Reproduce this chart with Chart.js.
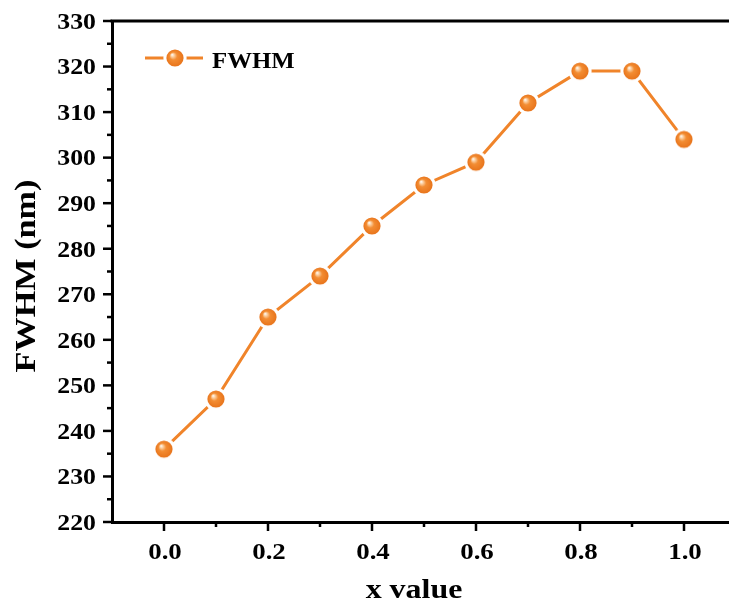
<!DOCTYPE html>
<html>
<head>
<meta charset="utf-8">
<script src="https://cdn.jsdelivr.net/npm/chart.js@4"></script>
<style>
html,body{margin:0;padding:0;background:#fff;overflow:hidden;}
canvas{display:block;}
</style>
</head>
<body>
<canvas id="c" width="740" height="606"></canvas>
<script>
// ---- data ----
const xValues = [0.0, 0.1, 0.2, 0.3, 0.4, 0.5, 0.6, 0.7, 0.8, 0.9, 1.0];
const fwhmValues = [236, 247, 265, 274, 285, 294, 299, 312, 319, 319, 304];
const xTickLabels = ['0.0', '0.2', '0.4', '0.6', '0.8', '1.0'];
const yTickLabels = ['220','230','240','250','260','270','280','290','300','310','320','330'];
const seriesName = 'FWHM';
const xTitle = 'x value';
const yTitle = 'FWHM (nm)';

const ORANGE = '#f0842a';
const FONT = '"Liberation Serif", "Times New Roman", serif';

// sphere marker image
function makeSphere(r, gap) {
  const size = Math.ceil((r + gap) * 2) + 2;
  const cv = document.createElement('canvas');
  cv.width = size; cv.height = size;
  const g = cv.getContext('2d');
  const c = size / 2;
  g.fillStyle = '#ffffff';
  g.beginPath(); g.arc(c, c, r + gap, 0, Math.PI * 2); g.fill();
  const grad = g.createRadialGradient(c - r * 0.35, c - r * 0.4, 0, c, c, r);
  grad.addColorStop(0, '#ffffff');
  grad.addColorStop(0.18, '#fcd3a8');
  grad.addColorStop(0.45, '#f38d33');
  grad.addColorStop(1, '#e8741b');
  g.fillStyle = grad;
  g.beginPath(); g.arc(c, c, r, 0, Math.PI * 2); g.fill();
  return cv;
}
const sphere = makeSphere(8.6, 3);

const points = xValues.map((x, i) => ({x: x, y: fwhmValues[i]}));

function sText(ctx, text, x, y, size, sx, align, rotate) {
  ctx.save();
  ctx.translate(x, y);
  if (rotate) ctx.rotate(-Math.PI / 2);
  ctx.scale(sx, 1);
  ctx.font = 'bold ' + size + 'px ' + FONT;
  ctx.textAlign = align;
  ctx.textBaseline = 'alphabetic';
  ctx.fillStyle = '#000';
  ctx.fillText(text, 0, 0);
  ctx.restore();
}

const decor = {
  id: 'decor',
  afterDraw(chart) {
    const ctx = chart.ctx;
    const a = chart.chartArea;
    const xs = chart.scales.x, ys = chart.scales.y;
    ctx.save();
    ctx.strokeStyle = '#000';
    ctx.lineWidth = 3;
    // top border
    ctx.beginPath(); ctx.moveTo(a.left - 1.5, a.top); ctx.lineTo(a.right + 10, a.top); ctx.stroke();
    ctx.lineWidth = 2.5;
    // y ticks
    for (let v = 220; v <= 330; v += 5) {
      const y = ys.getPixelForValue(v);
      const len = (v % 10 === 0) ? 9 : 5;
      ctx.beginPath(); ctx.moveTo(a.left, y); ctx.lineTo(a.left - len, y); ctx.stroke();
    }
    // x ticks
    for (let i = 0; i <= 10; i++) {
      const v = i / 10;
      const x = xs.getPixelForValue(v);
      const len = (i % 2 === 0) ? 9 : 5;
      ctx.beginPath(); ctx.moveTo(x, a.bottom); ctx.lineTo(x, a.bottom + len); ctx.stroke();
    }
    // tick labels
    yTickLabels.forEach(t => {
      const y = ys.getPixelForValue(parseFloat(t));
      sText(ctx, t, 96, y + 0.34 * 23, 23, 1.12, 'right', false);
    });
    xTickLabels.forEach(t => {
      const x = xs.getPixelForValue(parseFloat(t));
      sText(ctx, t, x + 1, 551 + 0.34 * 24, 24, 1.12, 'center', false);
    });
    // axis titles
    sText(ctx, xTitle, 414, 598, 28, 1.14, 'center', false);
    sText(ctx, yTitle, 25 + 0.33 * 29, 276, 29, 1.18, 'center', true);
    // legend
    const ly = 58;
    ctx.strokeStyle = ORANGE;
    ctx.lineWidth = 3;
    ctx.beginPath(); ctx.moveTo(145, ly); ctx.lineTo(203, ly); ctx.stroke();
    ctx.drawImage(sphere, 175 - sphere.width / 2, ly - sphere.height / 2);
    sText(ctx, seriesName, 212, 60 + 0.33 * 23, 23, 1.08, 'left', false);
    ctx.restore();
  }
};

new Chart(document.getElementById('c'), {
  type: 'line',
  data: {
    datasets: [{
      label: seriesName,
      data: points,
      borderColor: ORANGE,
      borderWidth: 3,
      pointStyle: sphere,
      pointRadius: 10,
      pointHoverRadius: 10,
      tension: 0,
      clip: false
    }]
  },
  options: {
    responsive: false,
    animation: false,
    layout: {autoPadding: false, padding: {top: 21, right: 4, left: 0, bottom: 0}},
    plugins: {legend: {display: false}, tooltip: {enabled: false}},
    scales: {
      x: {
        type: 'linear',
        min: -0.1, max: 1.1,
        afterFit(s) { s.height = 84; },
        grid: {display: true, drawOnChartArea: false, drawTicks: false},
        border: {display: true, color: '#000', width: 3},
        ticks: {display: false, stepSize: 0.1}
      },
      y: {
        min: 220, max: 330,
        afterFit(s) { s.width = 112; },
        grid: {display: true, drawOnChartArea: false, drawTicks: false},
        border: {display: true, color: '#000', width: 3},
        ticks: {display: false, stepSize: 10}
      }
    }
  },
  plugins: [decor]
});
</script>
</body>
</html>
